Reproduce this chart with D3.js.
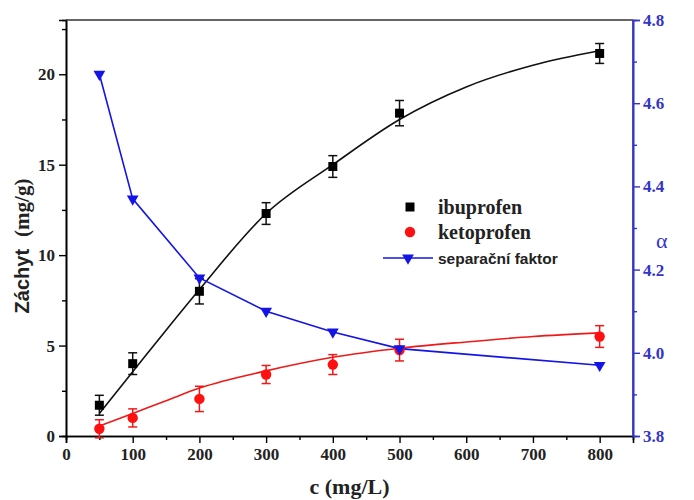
<!DOCTYPE html>
<html>
<head>
<meta charset="utf-8">
<script src="https://cdn.jsdelivr.net/npm/d3@7"></script>
<style>
  body { margin: 0; background: #fff; }
  svg text { font-family: "Liberation Serif", "Times New Roman", serif; font-weight: bold; }
  .sans { font-family: "Liberation Sans", Arial, sans-serif !important; }
</style>
</head>
<body>
<div id="chart"></div>
<script>
// concentrations (mg/L)
var conc = [50, 100, 200, 300, 400, 500, 800];

// uptake (mg/g) with error bars
var ibuprofen = [1.7, 4.0, 8.0, 12.3, 14.9, 17.85, 21.15];
var ibuprofenErr = [0.55, 0.6, 0.7, 0.6, 0.6, 0.7, 0.55];
var ketoprofen = [0.4, 1.0, 2.05, 3.4, 3.95, 4.75, 5.5];
var ketoprofenErr = [0.5, 0.5, 0.7, 0.5, 0.55, 0.6, 0.6];

// separation factor (right axis)
var alpha = [4.67, 4.37, 4.18, 4.10, 4.05, 4.01, 3.97];

// fitted curves
var fitConc = [50, 100, 150, 200, 300, 400, 500, 600, 700, 800];
var ibuprofenFit = [1.25, 3.55, 5.85, 8.1, 12.3, 15.0, 17.5, 19.3, 20.5, 21.3];
var ketoprofenFit = [0.55, 1.25, 1.95, 2.65, 3.6, 4.35, 4.85, 5.2, 5.5, 5.7];

var xTicks = [0, 100, 200, 300, 400, 500, 600, 700, 800];
var yTicks = [0, 5, 10, 15, 20];
var aTicks = [3.8, 4.0, 4.2, 4.4, 4.6, 4.8];

var W = 694, H = 500;
var margin = { left: 66, right: 633, top: 20, bottom: 436 };
var blueAxis = "#3434c8", blueLine = "#1414e6";

var svg = d3.select("#chart").append("svg")
  .attr("width", W).attr("height", H);

var x = d3.scaleLinear().domain([0, 850]).range([margin.left, margin.right]);
var y = d3.scaleLinear().domain([0, 23]).range([margin.bottom, margin.top]);
var y2 = d3.scaleLinear().domain([3.8, 4.8]).range([margin.bottom, margin.top]);

// axes
svg.append("g").attr("transform", "translate(0," + margin.bottom + ")")
  .call(d3.axisBottom(x).tickValues(xTicks).tickSize(7).tickPadding(5).tickFormat(d3.format("d")));
svg.append("g").attr("transform", "translate(0," + margin.bottom + ")")
  .call(d3.axisBottom(x).tickValues(d3.range(50, 850, 100)).tickSize(4).tickFormat(""));

svg.append("g").attr("transform", "translate(" + margin.left + ",0)")
  .call(d3.axisLeft(y).tickValues(yTicks).tickSize(7).tickPadding(4));
svg.append("g").attr("transform", "translate(" + margin.left + ",0)")
  .call(d3.axisLeft(y).tickValues(d3.range(2.5, 23, 5)).tickSize(4).tickFormat(""));

svg.append("g").attr("class", "a-axis").attr("transform", "translate(" + margin.right + ",0)")
  .call(d3.axisRight(y2).tickValues(aTicks).tickSize(7).tickPadding(3).tickFormat(d3.format(".1f")));
svg.append("g").attr("class", "a-axis").attr("transform", "translate(" + margin.right + ",0)")
  .call(d3.axisRight(y2).tickValues(d3.range(3.9, 4.8, 0.2)).tickSize(4).tickFormat(""));

svg.selectAll(".domain").attr("stroke-width", 1.6);
svg.selectAll(".tick line").attr("stroke-width", 1.4);
svg.selectAll(".tick text").style("font-size", "17px").attr("fill", "#222");
svg.selectAll(".a-axis .domain, .a-axis .tick line").attr("stroke", blueAxis);
svg.selectAll(".a-axis .tick text").attr("fill", blueAxis);

// top frame line
svg.append("line")
  .attr("x1", margin.left).attr("x2", margin.right).attr("y1", margin.top).attr("y2", margin.top)
  .attr("stroke", "#333").attr("stroke-width", 1.6);
// redraw right axis line over frame
svg.append("line")
  .attr("x1", margin.right).attr("x2", margin.right).attr("y1", margin.top).attr("y2", margin.bottom)
  .attr("stroke", blueAxis).attr("stroke-width", 1.6);

// axis titles
svg.append("text")
  .attr("x", x(425)).attr("y", 494)
  .attr("text-anchor", "middle").style("font-size", "22px").attr("fill", "#222")
  .text("c (mg/L)");

var yt = svg.append("text")
  .attr("transform", "translate(29,246) rotate(-90)")
  .attr("text-anchor", "middle").attr("fill", "#222");
yt.append("tspan").attr("class", "sans").style("font-size", "20px").text("Záchyt");
yt.append("tspan").style("font-size", "21px").attr("dx", 12).text("(mg/g)");

svg.append("text")
  .attr("x", 656).attr("y", 248)
  .style("font-size", "22px").style("font-weight", "normal").attr("fill", blueAxis)
  .text("α");

// curves
var line = d3.line().curve(d3.curveMonotoneX);

svg.append("path")
  .attr("d", line(fitConc.map(function(c, i) { return [x(c), y(ibuprofenFit[i])]; })))
  .attr("fill", "none").attr("stroke", "#111").attr("stroke-width", 1.6);

svg.append("path")
  .attr("d", line(fitConc.map(function(c, i) { return [x(c), y(ketoprofenFit[i])]; })))
  .attr("fill", "none").attr("stroke", "#f01818").attr("stroke-width", 1.6);

svg.append("path")
  .attr("d", d3.line()(conc.map(function(c, i) { return [x(c), y2(alpha[i])]; })))
  .attr("fill", "none").attr("stroke", blueLine).attr("stroke-width", 1.6);

// error bars
function errorBars(vals, errs, color) {
  var g = svg.append("g").attr("stroke", color).attr("stroke-width", 1.5);
  conc.forEach(function(c, i) {
    var cx = x(c), y0 = y(vals[i] - errs[i]), y1 = y(vals[i] + errs[i]);
    g.append("line").attr("x1", cx).attr("x2", cx).attr("y1", y0).attr("y2", y1);
    g.append("line").attr("x1", cx - 4.5).attr("x2", cx + 4.5).attr("y1", y0).attr("y2", y0);
    g.append("line").attr("x1", cx - 4.5).attr("x2", cx + 4.5).attr("y1", y1).attr("y2", y1);
  });
}
errorBars(ibuprofen, ibuprofenErr, "#111");
errorBars(ketoprofen, ketoprofenErr, "#f01818");

// markers
var sq = d3.symbol().type(d3.symbolSquare).size(81);
var ci = d3.symbol().type(d3.symbolCircle).size(85);
var tri = d3.symbol().type(d3.symbolTriangle).size(60);

svg.selectAll(".ibu").data(conc).enter().append("path")
  .attr("d", sq).attr("fill", "#000")
  .attr("transform", function(c, i) { return "translate(" + x(c) + "," + y(ibuprofen[i]) + ")"; });

svg.selectAll(".keto").data(conc).enter().append("path")
  .attr("d", ci).attr("fill", "#ff1010")
  .attr("transform", function(c, i) { return "translate(" + x(c) + "," + y(ketoprofen[i]) + ")"; });

svg.selectAll(".alpha").data(conc).enter().append("path")
  .attr("d", tri).attr("fill", blueLine)
  .attr("transform", function(c, i) { return "translate(" + x(c) + "," + y2(alpha[i]) + ") rotate(180)"; });

// legend
var lg = svg.append("g");
lg.append("path").attr("d", sq).attr("fill", "#000").attr("transform", "translate(410,207)");
lg.append("text").attr("x", 438).attr("y", 214).style("font-size", "20px").attr("fill", "#222").text("ibuprofen");
lg.append("path").attr("d", ci).attr("fill", "#ff1010").attr("transform", "translate(410,232)");
lg.append("text").attr("x", 438).attr("y", 239).style("font-size", "20px").attr("fill", "#222").text("ketoprofen");
lg.append("line").attr("x1", 383).attr("x2", 433).attr("y1", 258).attr("y2", 258)
  .attr("stroke", blueLine).attr("stroke-width", 1.6);
lg.append("path").attr("d", tri).attr("fill", blueLine).attr("transform", "translate(408,258) rotate(180)");
lg.append("text").attr("class", "sans").attr("x", 438).attr("y", 263.5)
  .style("font-size", "15.5px").attr("fill", "#222").text("separační faktor");
</script>
</body>
</html>
